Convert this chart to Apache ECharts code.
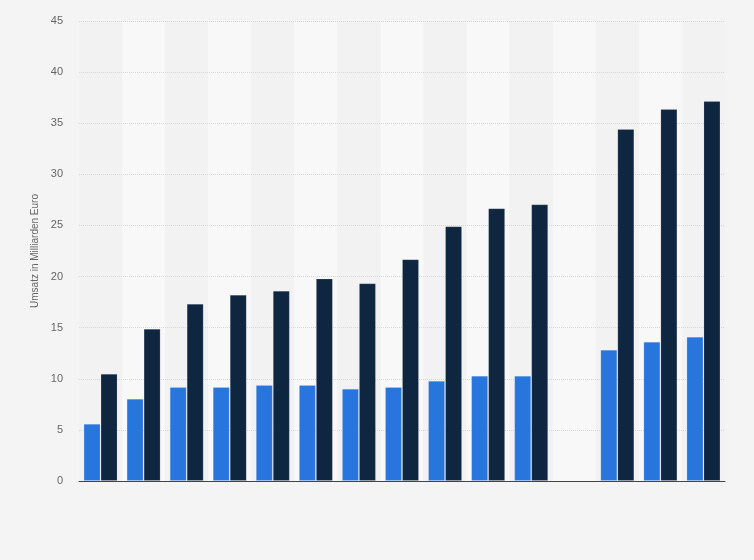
<!DOCTYPE html>
<html>
<head>
<meta charset="utf-8">
<script src="https://cdn.jsdelivr.net/npm/echarts@6/dist/echarts.min.js"></script>
<style>
  html, body { margin: 0; padding: 0; background: #f4f4f4; }
  #chart { width: 754px; height: 560px; }
</style>
</head>
<body>
<div id="chart"></div>
<script>
// categories (labels not shown in the picture), one empty slot
var categories = ['1', '2', '3', '4', '5', '6', '7', '8', '9', '10', '11', '12', '13', '14', '15'];
var seriesA = [5.6, 8.05, 9.2, 9.2, 9.4, 9.4, 9.03, 9.2, 9.8, 10.3, 10.3, null, 12.85, 13.63, 14.12];
var seriesB = [10.5, 14.9, 17.35, 18.23, 18.62, 19.8, 19.34, 21.7, 24.92, 26.68, 27.07, null, 34.44, 36.4, 37.18];
var yTicks = { min: 0, max: 45, interval: 5 };

var chart = echarts.init(document.getElementById('chart'));
var option = {
    backgroundColor: '#f4f4f4',
    animation: false,
    grid: { left: 79, right: 29, top: 21, bottom: 79 },
    xAxis: {
        type: 'category',
        data: categories,
        z: 0,
        axisLine: { lineStyle: { color: '#444', width: 1 } },
        axisTick: { show: false },
        axisLabel: { show: false },
        splitArea: { show: true, areaStyle: { color: ['#f2f2f2', '#f8f8f8'] } }
    },
    yAxis: {
        type: 'value',
        z: 1,
        min: yTicks.min,
        max: yTicks.max,
        interval: yTicks.interval,
        name: 'Umsatz in Milliarden Euro',
        nameLocation: 'middle',
        nameGap: 39,
        nameTextStyle: { color: '#666', fontSize: 10, fontFamily: 'Liberation Sans, Arial, sans-serif' },
        axisLine: { show: false },
        axisTick: { show: false },
        axisLabel: { color: '#666', fontSize: 11, margin: 16, fontFamily: 'Liberation Sans, Arial, sans-serif' },
        splitLine: { showMinLine: false, lineStyle: { color: '#d8d8d8', type: [1, 1] } }
    },
    series: [{
        type: 'bar',
        data: seriesA,
        barWidth: 17,
        barGap: '0%',
        z: 3,
        itemStyle: { color: '#2876dd', borderColor: 'rgba(255,255,255,0.15)', borderWidth: 1 }
    }, {
        type: 'bar',
        data: seriesB,
        barWidth: 17,
        z: 3,
        itemStyle: { color: '#0f2640', borderColor: 'rgba(255,255,255,0.15)', borderWidth: 1 }
    }]
};
chart.setOption(option);
</script>
</body>
</html>
